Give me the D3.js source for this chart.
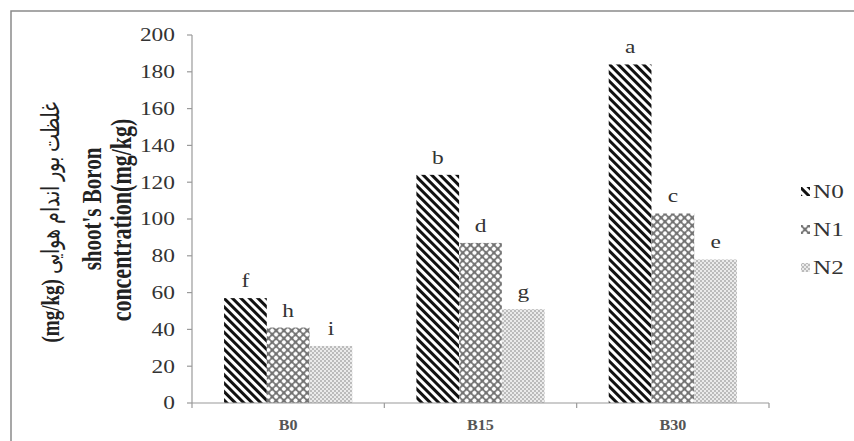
<!DOCTYPE html>
<html><head><meta charset="utf-8">
<script src="https://cdn.jsdelivr.net/npm/d3@7/dist/d3.min.js"></script>
<style>body{margin:0;background:#fff}svg{display:block}</style>
</head><body><svg id="c" width="854" height="441"></svg>
<script>
const categories = ["B0", "B15", "B30"];
const seriesNames = ["N0", "N1", "N2"];
const N0 = [57, 124, 184];
const N1 = [41, 87, 103];
const N2 = [31, 51, 78];
const letters = [["f", "h", "i"], ["b", "d", "g"], ["a", "c", "e"]];
const yTicks = [0, 20, 40, 60, 80, 100, 120, 140, 160, 180, 200];
const titleFaUnit = "(mg/kg)";
const titleFa = " غلظت بور اندام هوایی";
const titleEn1 = "shoot's Boron";
const titleEn2 = "concentration(mg/kg)";

const values = [N0, N1, N2];
const svg = d3.select("#c");
const SX = 1.3;
const serif = "'Liberation Serif','Times New Roman',serif";

// patterns
const defs = svg.append("defs");
const p0 = defs.append("pattern").attr("id", "pN0").attr("patternUnits", "userSpaceOnUse")
  .attr("width", 6).attr("height", 6).attr("patternTransform", "rotate(-45)");
p0.append("rect").attr("width", 6).attr("height", 6).attr("fill", "#fff");
p0.append("rect").attr("width", 3).attr("height", 6).attr("fill", "#111");
const p1 = defs.append("pattern").attr("id", "pN1").attr("patternUnits", "userSpaceOnUse")
  .attr("width", 5.5).attr("height", 5.5).attr("patternTransform", "rotate(45)");
p1.append("rect").attr("width", 5.5).attr("height", 5.5).attr("fill", "#737373");
p1.append("circle").attr("cx", 2.75).attr("cy", 2.75).attr("r", 2.1).attr("fill", "#fff");
const p2 = defs.append("pattern").attr("id", "pN2").attr("patternUnits", "userSpaceOnUse")
  .attr("width", 4).attr("height", 4);
p2.append("rect").attr("width", 4).attr("height", 4).attr("fill", "#ebebeb");
p2.append("circle").attr("cx", 1).attr("cy", 1).attr("r", 0.95).attr("fill", "#a8a8a8");
p2.append("circle").attr("cx", 3).attr("cy", 3).attr("r", 0.95).attr("fill", "#a8a8a8");
const fills = ["url(#pN0)", "url(#pN1)", "url(#pN2)"];

// frame
svg.append("rect").attr("x", 11).attr("y", 11).attr("width", 900).attr("height", 500)
  .attr("fill", "none").attr("stroke", "#8a8a8a").attr("stroke-width", 1.5);

const x = d3.scaleBand().domain(categories).range([192, 769]).padding(0);
const xs = d3.scaleBand().domain(seriesNames).range([0, x.bandwidth()]).paddingInner(0).paddingOuter(0.75);
const y = d3.scaleLinear().domain([0, 200]).range([403, 35]);

// bars
categories.forEach((c, ci) => {
  seriesNames.forEach((s, si) => {
    const v = values[si][ci];
    svg.append("rect")
      .attr("x", x(c) + xs(s)).attr("y", y(v))
      .attr("width", xs.bandwidth()).attr("height", y(0) - y(v))
      .attr("fill", fills[si]);
    svg.append("text")
      .attr("transform", `translate(${x(c) + xs(s) + xs.bandwidth() / 2},${y(v) - 11}) scale(${SX},1)`)
      .attr("text-anchor", "middle").attr("font-family", serif).attr("font-size", 18)
      .attr("fill", "#333").text(letters[ci][si]);
  });
});

// y axis
const axisColor = "#9a9a9a";
svg.append("line").attr("x1", 192).attr("x2", 192).attr("y1", y(200)).attr("y2", y(0))
  .attr("stroke", axisColor).attr("stroke-width", 1.2);
yTicks.forEach(t => {
  svg.append("line").attr("x1", 187).attr("x2", 192).attr("y1", y(t)).attr("y2", y(t))
    .attr("stroke", axisColor).attr("stroke-width", 1.2);
  svg.append("text").attr("transform", `translate(175,${y(t)}) scale(${SX},1)`)
    .attr("dy", "0.35em").attr("text-anchor", "end").attr("font-family", serif)
    .attr("font-size", 18).attr("fill", "#333").text(t);
});

// x axis
svg.append("line").attr("x1", 192).attr("x2", 769).attr("y1", y(0)).attr("y2", y(0))
  .attr("stroke", axisColor).attr("stroke-width", 1.2);
[...categories.map(c => x(c)), 769].forEach(px => {
  svg.append("line").attr("x1", px).attr("x2", px).attr("y1", y(0)).attr("y2", y(0) + 5)
    .attr("stroke", axisColor).attr("stroke-width", 1.2);
});
categories.forEach(c => {
  svg.append("text").attr("transform", `translate(${x(c) + x.bandwidth() / 2},${y(0) + 27}) scale(1.15,1)`)
    .attr("text-anchor", "middle").attr("font-family", serif).attr("font-weight", "bold")
    .attr("font-size", 14).attr("fill", "#555").text(c);
});

// y titles
function rotText(px, py, size) {
  return svg.append("text").attr("transform", `translate(${px},${py}) scale(${SX},1) rotate(-90)`)
    .attr("text-anchor", "middle").attr("font-family", "'Liberation Serif','DejaVu Serif',serif")
    .attr("font-size", size).attr("fill", "#222");
}
const tFa = rotText(59, 222, 19);
tFa.append("tspan").attr("font-weight", "bold").text(titleFaUnit);
tFa.append("tspan").attr("font-weight", "normal").text(titleFa);
rotText(101, 209, 21).attr("font-weight", "bold").text(titleEn1);
rotText(131, 220, 22).attr("font-weight", "bold").text(titleEn2);

// legend
const ly = [192, 230, 268];
seriesNames.forEach((s, i) => {
  svg.append("rect").attr("x", 801).attr("y", ly[i] - 5).attr("width", 9).attr("height", 9)
    .attr("fill", fills[i]);
  svg.append("text").attr("transform", `translate(813,${ly[i]}) scale(1.4,1)`)
    .attr("dy", "0.35em").attr("font-family", serif).attr("font-size", 18)
    .attr("fill", "#333").text(s);
});
</script></body></html>
